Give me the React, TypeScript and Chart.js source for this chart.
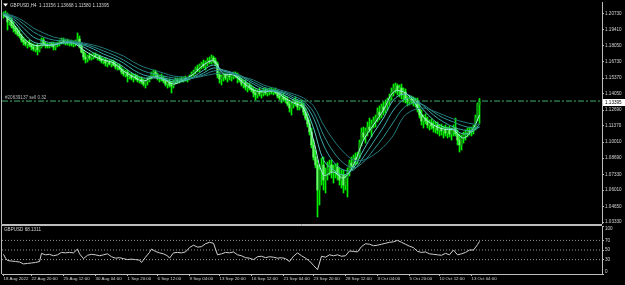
import React, { useEffect, useRef } from "react";
import { Chart, registerables } from "chart.js";

Chart.register(...registerables);

// ---------------- data ----------------
const chartTitle = "GBPUSD,H4";
const lastQuote = ["1.13156", "1.13668", "1.11580", "1.13395"];
const orderText = "#20639137 sell 0.32";
const orderPrice = 1.1345;
const rsiTitle = "GBPUSD 68.1311";

const opens = [
  1.2064, 1.2072, 1.2056, 1.2006, 1.2022, 1.1972, 1.1955, 1.1930, 1.1905, 1.1889,
  1.1855, 1.1838, 1.1822, 1.1830, 1.1813, 1.1797, 1.1780, 1.1805, 1.1772, 1.1797,
  1.1855, 1.1822, 1.1813, 1.1805, 1.1822, 1.1813, 1.1797, 1.1822, 1.1830, 1.1838,
  1.1855, 1.1838, 1.1847, 1.1830, 1.1838, 1.1822, 1.1830, 1.1847, 1.1863, 1.1805,
  1.1755, 1.1713, 1.1696, 1.1721, 1.1705, 1.1721, 1.1730, 1.1713, 1.1721, 1.1696,
  1.1680, 1.1688, 1.1663, 1.1671, 1.1655, 1.1671, 1.1646, 1.1630, 1.1638, 1.1613,
  1.1588, 1.1571, 1.1588, 1.1554, 1.1563, 1.1538, 1.1554, 1.1538, 1.1521, 1.1529,
  1.1504, 1.1487, 1.1512, 1.1521, 1.1546, 1.1579, 1.1588, 1.1563, 1.1538, 1.1546,
  1.1529, 1.1512, 1.1487, 1.1504, 1.1479, 1.1471, 1.1504, 1.1521, 1.1512, 1.1529,
  1.1521, 1.1538, 1.1529, 1.1538, 1.1554, 1.1571, 1.1588, 1.1613, 1.1604, 1.1638,
  1.1655, 1.1638, 1.1663, 1.1680, 1.1671, 1.1705, 1.1680, 1.1655, 1.1563, 1.1529,
  1.1546, 1.1563, 1.1538, 1.1554, 1.1546, 1.1554, 1.1571, 1.1554, 1.1538, 1.1521,
  1.1487, 1.1504, 1.1462, 1.1479, 1.1454, 1.1437, 1.1412, 1.1396, 1.1421, 1.1404,
  1.1412, 1.1429, 1.1412, 1.1421, 1.1437, 1.1421, 1.1429, 1.1412, 1.1387, 1.1370,
  1.1379, 1.1362, 1.1354, 1.1320, 1.1287, 1.1320, 1.1345, 1.1329, 1.1295, 1.1320,
  1.1304, 1.1253, 1.1203, 1.1153, 1.1086, 1.0978, 1.0877, 1.0811, 1.0602, 1.0769,
  1.0811, 1.0685, 1.0727, 1.0786, 1.0811, 1.0752, 1.0769, 1.0794, 1.0727, 1.0685,
  1.0727, 1.0643, 1.0702, 1.0752, 1.0827, 1.0802, 1.0869, 1.0852, 1.0894, 1.0994,
  1.1078, 1.1045, 1.1095, 1.1128, 1.1103, 1.1153, 1.1178, 1.1203, 1.1253, 1.1228,
  1.1295, 1.1270, 1.1320, 1.1345, 1.1379, 1.1421, 1.1454, 1.1471, 1.1437, 1.1454,
  1.1396, 1.1421, 1.1362, 1.1337, 1.1362, 1.1354, 1.1329, 1.1345, 1.1278, 1.1228,
  1.1178, 1.1203, 1.1178, 1.1145, 1.1161, 1.1136, 1.1120, 1.1145, 1.1103, 1.1120,
  1.1095, 1.1111, 1.1078, 1.1103, 1.1070, 1.1095, 1.1120, 1.1070, 1.1019, 1.0978,
  1.1036, 1.1061, 1.1078, 1.1095, 1.1086, 1.1111, 1.1128, 1.1203, 1.13156,
];
const highs = [
  1.2089, 1.2097, 1.2081, 1.2047, 1.2039, 1.2006, 1.1972, 1.1955, 1.1939, 1.1905,
  1.1880, 1.1863, 1.1847, 1.1855, 1.1830, 1.1822, 1.1813, 1.1822, 1.1805, 1.1872,
  1.1872, 1.1838, 1.1830, 1.1830, 1.1838, 1.1838, 1.1830, 1.1838, 1.1855, 1.1872,
  1.1872, 1.1863, 1.1863, 1.1855, 1.1855, 1.1847, 1.1855, 1.1914, 1.1889, 1.1822,
  1.1772, 1.1747, 1.1730, 1.1747, 1.1738, 1.1747, 1.1747, 1.1738, 1.1730, 1.1713,
  1.1705, 1.1705, 1.1688, 1.1688, 1.1688, 1.1688, 1.1671, 1.1655, 1.1655, 1.1630,
  1.1613, 1.1604, 1.1604, 1.1579, 1.1579, 1.1571, 1.1571, 1.1563, 1.1546, 1.1546,
  1.1529, 1.1521, 1.1538, 1.1554, 1.1588, 1.1604, 1.1604, 1.1579, 1.1563, 1.1571,
  1.1554, 1.1538, 1.1521, 1.1529, 1.1512, 1.1521, 1.1538, 1.1538, 1.1538, 1.1546,
  1.1546, 1.1554, 1.1546, 1.1563, 1.1588, 1.1604, 1.1630, 1.1646, 1.1655, 1.1671,
  1.1688, 1.1680, 1.1705, 1.1713, 1.1730, 1.1721, 1.1705, 1.1671, 1.1588, 1.1563,
  1.1579, 1.1579, 1.1571, 1.1579, 1.1571, 1.1588, 1.1588, 1.1579, 1.1563, 1.1538,
  1.1521, 1.1521, 1.1496, 1.1496, 1.1479, 1.1462, 1.1446, 1.1437, 1.1454, 1.1437,
  1.1454, 1.1454, 1.1446, 1.1454, 1.1454, 1.1446, 1.1454, 1.1437, 1.1421, 1.1404,
  1.1412, 1.1387, 1.1379, 1.1354, 1.1337, 1.1362, 1.1379, 1.1354, 1.1345, 1.1354,
  1.1329, 1.1287, 1.1237, 1.1187, 1.1120, 1.1019, 1.0936, 1.0852, 1.0811, 1.0869,
  1.0877, 1.0786, 1.0836, 1.0852, 1.0852, 1.0811, 1.0819, 1.0827, 1.0786, 1.0769,
  1.0769, 1.0727, 1.0786, 1.0852, 1.0877, 1.0894, 1.0911, 1.0919, 1.1019, 1.1120,
  1.1128, 1.1120, 1.1170, 1.1203, 1.1187, 1.1212, 1.1228, 1.1287, 1.1304, 1.1320,
  1.1337, 1.1354, 1.1370, 1.1404, 1.1454, 1.1487, 1.1496, 1.1487, 1.1479, 1.1487,
  1.1454, 1.1446, 1.1387, 1.1379, 1.1387, 1.1379, 1.1370, 1.1370, 1.1312, 1.1270,
  1.1228, 1.1237, 1.1212, 1.1187, 1.1195, 1.1178, 1.1170, 1.1170, 1.1145, 1.1153,
  1.1136, 1.1145, 1.1128, 1.1136, 1.1120, 1.1145, 1.1203, 1.1103, 1.1070, 1.1061,
  1.1086, 1.1103, 1.1120, 1.1128, 1.1128, 1.1145, 1.1228, 1.1329, 1.13668,
];
const lows = [
  1.2039, 1.2047, 1.1939, 1.1980, 1.1955, 1.1922, 1.1905, 1.1889, 1.1872, 1.1838,
  1.1813, 1.1805, 1.1788, 1.1797, 1.1772, 1.1763, 1.1755, 1.1730, 1.1755, 1.1788,
  1.1805, 1.1788, 1.1788, 1.1788, 1.1797, 1.1772, 1.1772, 1.1797, 1.1805, 1.1822,
  1.1822, 1.1813, 1.1813, 1.1805, 1.1805, 1.1797, 1.1805, 1.1830, 1.1788, 1.1747,
  1.1688, 1.1663, 1.1671, 1.1688, 1.1688, 1.1696, 1.1705, 1.1688, 1.1680, 1.1663,
  1.1655, 1.1638, 1.1630, 1.1646, 1.1630, 1.1638, 1.1613, 1.1604, 1.1604, 1.1571,
  1.1554, 1.1546, 1.1504, 1.1529, 1.1521, 1.1504, 1.1521, 1.1504, 1.1496, 1.1487,
  1.1471, 1.1454, 1.1479, 1.1504, 1.1529, 1.1554, 1.1546, 1.1521, 1.1504, 1.1512,
  1.1496, 1.1471, 1.1454, 1.1462, 1.1412, 1.1454, 1.1487, 1.1496, 1.1496, 1.1504,
  1.1504, 1.1512, 1.1504, 1.1521, 1.1538, 1.1554, 1.1571, 1.1588, 1.1588, 1.1613,
  1.1621, 1.1604, 1.1638, 1.1655, 1.1655, 1.1663, 1.1638, 1.1538, 1.1496, 1.1479,
  1.1512, 1.1521, 1.1504, 1.1521, 1.1512, 1.1529, 1.1538, 1.1496, 1.1504, 1.1471,
  1.1454, 1.1437, 1.1421, 1.1437, 1.1421, 1.1379, 1.1354, 1.1370, 1.1387, 1.1370,
  1.1387, 1.1396, 1.1387, 1.1396, 1.1404, 1.1396, 1.1404, 1.1370, 1.1354, 1.1329,
  1.1345, 1.1329, 1.1304, 1.1253, 1.1228, 1.1287, 1.1304, 1.1270, 1.1270, 1.1287,
  1.1228, 1.1187, 1.1128, 1.1061, 1.0953, 1.0852, 1.0786, 1.0376, 1.0476, 1.0643,
  1.0602, 1.0577, 1.0685, 1.0727, 1.0702, 1.0660, 1.0702, 1.0685, 1.0643, 1.0618,
  1.0577, 1.0602, 1.0543, 1.0719, 1.0769, 1.0786, 1.0811, 1.0819, 1.0869, 1.0969,
  1.1019, 1.0994, 1.1053, 1.1086, 1.1045, 1.1120, 1.1128, 1.1170, 1.1187, 1.1203,
  1.1228, 1.1245, 1.1270, 1.1312, 1.1354, 1.1387, 1.1412, 1.1396, 1.1379, 1.1362,
  1.1337, 1.1329, 1.1304, 1.1312, 1.1320, 1.1304, 1.1295, 1.1253, 1.1203, 1.1145,
  1.1120, 1.1153, 1.1120, 1.1103, 1.1111, 1.1086, 1.1078, 1.1070, 1.1053, 1.1061,
  1.1036, 1.1053, 1.1036, 1.1045, 1.1019, 1.1053, 1.1053, 1.0978, 1.0919, 1.0936,
  1.0994, 1.1019, 1.1045, 1.1061, 1.1053, 1.1070, 1.1103, 1.1178, 1.11580,
];
const closes = [
  1.2072, 1.2056, 1.2006, 1.2022, 1.1972, 1.1955, 1.1930, 1.1905, 1.1889, 1.1855,
  1.1838, 1.1822, 1.1830, 1.1813, 1.1797, 1.1780, 1.1805, 1.1772, 1.1797, 1.1855,
  1.1822, 1.1813, 1.1805, 1.1822, 1.1813, 1.1797, 1.1822, 1.1830, 1.1838, 1.1855,
  1.1838, 1.1847, 1.1830, 1.1838, 1.1822, 1.1830, 1.1847, 1.1863, 1.1805, 1.1755,
  1.1713, 1.1696, 1.1721, 1.1705, 1.1721, 1.1730, 1.1713, 1.1721, 1.1696, 1.1680,
  1.1688, 1.1663, 1.1671, 1.1655, 1.1671, 1.1646, 1.1630, 1.1638, 1.1613, 1.1588,
  1.1571, 1.1588, 1.1554, 1.1563, 1.1538, 1.1554, 1.1538, 1.1521, 1.1529, 1.1504,
  1.1487, 1.1512, 1.1521, 1.1546, 1.1579, 1.1588, 1.1563, 1.1538, 1.1546, 1.1529,
  1.1512, 1.1487, 1.1504, 1.1479, 1.1471, 1.1504, 1.1521, 1.1512, 1.1529, 1.1521,
  1.1538, 1.1529, 1.1538, 1.1554, 1.1571, 1.1588, 1.1613, 1.1604, 1.1638, 1.1655,
  1.1638, 1.1663, 1.1680, 1.1671, 1.1705, 1.1680, 1.1655, 1.1563, 1.1529, 1.1546,
  1.1563, 1.1538, 1.1554, 1.1546, 1.1554, 1.1571, 1.1554, 1.1538, 1.1521, 1.1487,
  1.1504, 1.1462, 1.1479, 1.1454, 1.1437, 1.1412, 1.1396, 1.1421, 1.1404, 1.1412,
  1.1429, 1.1412, 1.1421, 1.1437, 1.1421, 1.1429, 1.1412, 1.1387, 1.1370, 1.1379,
  1.1362, 1.1354, 1.1320, 1.1287, 1.1320, 1.1345, 1.1329, 1.1295, 1.1320, 1.1304,
  1.1253, 1.1203, 1.1153, 1.1086, 1.0978, 1.0877, 1.0811, 1.0602, 1.0769, 1.0811,
  1.0685, 1.0727, 1.0786, 1.0811, 1.0752, 1.0769, 1.0794, 1.0727, 1.0685, 1.0727,
  1.0643, 1.0702, 1.0752, 1.0827, 1.0802, 1.0869, 1.0852, 1.0894, 1.0994, 1.1078,
  1.1045, 1.1095, 1.1128, 1.1103, 1.1153, 1.1178, 1.1203, 1.1253, 1.1228, 1.1295,
  1.1270, 1.1320, 1.1345, 1.1379, 1.1421, 1.1454, 1.1471, 1.1437, 1.1454, 1.1396,
  1.1421, 1.1362, 1.1337, 1.1362, 1.1354, 1.1329, 1.1345, 1.1278, 1.1228, 1.1178,
  1.1203, 1.1178, 1.1145, 1.1161, 1.1136, 1.1120, 1.1145, 1.1103, 1.1120, 1.1095,
  1.1111, 1.1078, 1.1103, 1.1070, 1.1095, 1.1120, 1.1070, 1.1019, 1.0978, 1.1036,
  1.1061, 1.1078, 1.1095, 1.1086, 1.1111, 1.1128, 1.1203, 1.1316, 1.13395,
];

// moving averages, read every 5 bars
const maBars = [
  0, 5, 10, 15, 20, 25, 30, 35, 40, 45, 50, 55, 60, 65, 70, 75, 80, 85, 90, 95,
  100, 105, 110, 115, 120, 125, 130, 135, 140, 145, 150, 155, 160, 165, 170, 175,
  180, 185, 190, 195, 200, 205, 210, 215, 220, 225, 230, 235, 238,
];
const maFast = [
  1.2064, 1.1989, 1.1872, 1.1813, 1.1813, 1.1813, 1.1838, 1.1830, 1.1772, 1.1721,
  1.1688, 1.1663, 1.1596, 1.1546, 1.1512, 1.1546, 1.1529, 1.1487, 1.1521, 1.1571,
  1.1646, 1.1680, 1.1571, 1.1563, 1.1496, 1.1437, 1.1421, 1.1429, 1.1379, 1.1329,
  1.1287, 1.1019, 1.0727, 1.0752, 1.0702, 1.0810, 1.1019, 1.1145, 1.1270, 1.1421,
  1.1421, 1.1345, 1.1212, 1.1145, 1.1111, 1.1103, 1.1036, 1.1120, 1.1228,
];
const maSecond = [
  1.2064, 1.2014, 1.1914, 1.1838, 1.1822, 1.1813, 1.1830, 1.1830, 1.1797, 1.1747,
  1.1713, 1.1680, 1.1630, 1.1571, 1.1538, 1.1538, 1.1529, 1.1504, 1.1512, 1.1546,
  1.1604, 1.1646, 1.1596, 1.1571, 1.1521, 1.1462, 1.1429, 1.1429, 1.1396, 1.1354,
  1.1312, 1.1120, 1.0852, 1.0769, 1.0727, 1.0785, 1.0936, 1.1078, 1.1203, 1.1354,
  1.1404, 1.1370, 1.1270, 1.1187, 1.1128, 1.1111, 1.1070, 1.1095, 1.1153,
];
const maThird = [
  1.2072, 1.2031, 1.1955, 1.1880, 1.1847, 1.1830, 1.1830, 1.1830, 1.1813, 1.1780,
  1.1738, 1.1705, 1.1663, 1.1604, 1.1563, 1.1546, 1.1538, 1.1521, 1.1521, 1.1538,
  1.1579, 1.1621, 1.1604, 1.1579, 1.1538, 1.1487, 1.1446, 1.1429, 1.1412, 1.1370,
  1.1329, 1.1203, 1.0978, 1.0836, 1.0769, 1.0769, 1.0877, 1.1003, 1.1128, 1.1270,
  1.1354, 1.1370, 1.1304, 1.1228, 1.1170, 1.1128, 1.1103, 1.1103, 1.1128,
];
const maFourth = [
  1.2072, 1.2047, 1.1989, 1.1922, 1.1880, 1.1855, 1.1847, 1.1838, 1.1822, 1.1797,
  1.1763, 1.1730, 1.1688, 1.1638, 1.1596, 1.1571, 1.1554, 1.1538, 1.1529, 1.1538,
  1.1563, 1.1596, 1.1596, 1.1579, 1.1546, 1.1504, 1.1462, 1.1437, 1.1421, 1.1387,
  1.1345, 1.1253, 1.1061, 1.0919, 1.0827, 1.0785, 1.0836, 1.0936, 1.1045, 1.1170,
  1.1287, 1.1329, 1.1312, 1.1253, 1.1203, 1.1170, 1.1136, 1.1120, 1.1128,
];
const maSlow = [
  1.2081, 1.2056, 1.2014, 1.1955, 1.1914, 1.1880, 1.1863, 1.1847, 1.1830, 1.1813,
  1.1788, 1.1755, 1.1721, 1.1671, 1.1630, 1.1604, 1.1579, 1.1554, 1.1546, 1.1538,
  1.1554, 1.1571, 1.1579, 1.1571, 1.1546, 1.1521, 1.1479, 1.1454, 1.1429, 1.1404,
  1.1370, 1.1304, 1.1145, 1.1019, 1.0919, 1.0852, 1.0852, 1.0894, 1.0961, 1.1061,
  1.1212, 1.1270, 1.1287, 1.1262, 1.1228, 1.1195, 1.1170, 1.1153, 1.1153,
];

// RSI sub-window
const rsiBars = [
  0, 1, 2, 4, 6, 8, 10, 12, 14, 16, 18, 19, 21, 23, 25, 27, 29, 31, 33, 35,
  37, 38, 40, 42, 44, 46, 48, 50, 52, 54, 56, 58, 60, 62, 64, 66, 68, 69, 71, 73,
  74, 76, 78, 80, 82, 83, 85, 87, 89, 91, 93, 95, 97, 99, 101, 103, 105, 107, 109, 111,
  113, 115, 117, 119, 121, 123, 125, 127, 129, 131, 133, 135, 137, 139, 141, 143, 145, 147, 149, 151,
  153, 155, 157, 159, 161, 163, 165, 167, 169, 171, 173, 175, 177, 179, 181, 183, 185, 187, 189, 191,
  193, 195, 197, 199, 201, 203, 205, 207, 209, 211, 213, 215, 217, 219, 221, 223, 225, 227, 229, 231,
  233, 235, 237, 238,
];
const rsiValues = [
  41, 33, 28, 27, 26, 25, 21, 22, 23, 24, 26, 43, 40, 41, 38, 40, 45, 44, 45, 44,
  52, 42, 32, 39, 41, 40, 38, 40, 42, 36, 33, 34, 32, 30, 31, 30, 29, 24, 35, 45,
  52, 47, 44, 42, 38, 33, 44, 45, 44, 46, 55, 60, 56, 57, 63, 66, 64, 40, 42, 45,
  44, 46, 40, 38, 34, 33, 30, 36, 37, 34, 36, 35, 33, 34, 32, 26, 37, 44, 38, 33,
  27, 18, 9, 37, 35, 40, 38, 40, 37, 38, 48, 47, 46, 57, 63, 62, 59, 60, 62, 64,
  66, 67, 70, 66, 62, 58, 55, 47, 45, 46, 42, 41, 40, 39, 43, 40, 50, 40, 42, 45,
  50, 50, 61, 68.1311,
];
const rsiLevels = [70, 50, 30];

// axis labels
const priceTicks = [
  1.0333, 1.0465, 1.0601, 1.0733, 1.0869, 1.1001, 1.1137, 1.1269, 1.1405, 1.1537,
  1.1673, 1.1805, 1.1941, 1.2073,
];
const rsiTicks = [0, 30, 50, 70, 100];
const timeLabelBars = [0, 14, 30, 46, 62, 77, 93, 108, 124, 140, 155, 171, 187, 203, 218, 234];
const timeLabels = [
  "18 Aug 2022", "22 Aug 20:00", "25 Aug 12:00", "30 Aug 04:00", "1 Sep 20:00",
  "6 Sep 12:00", "9 Sep 04:00", "13 Sep 20:00", "16 Sep 12:00", "21 Sep 04:00",
  "23 Sep 20:00", "28 Sep 12:00", "3 Oct 04:00", "5 Oct 20:00", "10 Oct 12:00",
  "13 Oct 04:00",
];

// ---------------- style ----------------
const FONT = "'Liberation Sans', Arial, sans-serif";
const FS = 4.6;
const FS_TIME = 4.4;
const TEXT = "#d4d4d4";
const FRAME = "#bdbdbd";
const WICK = "#00f000";
const BULL = "#119011";
const BEAR = "#66ff66";
const MA_COLORS = ["#a6ece4", "#57c4be", "#3aa9a7", "#2c9090", "#227a7a"];
const X_MIN = -0.75;
const X_MAX = 299.25;
const Y_MAX = 1.21727;
const Y_MIN = 1.03258;

const mainOverlay = {
  id: "mainOverlay",
  afterDraw(chart: any) {
    const { ctx, chartArea: a, scales } = chart;
    ctx.save();
    ctx.strokeStyle = FRAME;
    ctx.lineWidth = 1;
    ctx.beginPath();
    ctx.moveTo(a.left - 0.5, 0);
    ctx.lineTo(a.left - 0.5, a.bottom + 1.5);
    ctx.lineTo(a.right, a.bottom + 1.5);
    ctx.stroke();

    // header
    ctx.fillStyle = "#ffffff";
    ctx.beginPath();
    ctx.moveTo(3, 3.5);
    ctx.lineTo(8, 3.5);
    ctx.lineTo(5.5, 6.5);
    ctx.closePath();
    ctx.fill();
    ctx.font = `${FS}px ${FONT}`;
    ctx.textBaseline = "middle";
    ctx.textAlign = "left";
    ctx.fillStyle = TEXT;
    ctx.fillText(`${chartTitle}  ${lastQuote.join(" ")}`, 10, 5.5);

    // order label
    const oy = scales.y.getPixelForValue(orderPrice);
    ctx.fillStyle = "#b8b8b8";
    ctx.fillText(orderText, 5, oy - 3.5);

    // current price box
    const py = Math.round(scales.y.getPixelForValue(closes[closes.length - 1]));
    ctx.fillStyle = "#ffffff";
    ctx.fillRect(a.right + 1, py - 3, 22, 7);
    ctx.fillStyle = "#000000";
    ctx.fillText(closes[closes.length - 1].toFixed(5), a.right + 3, py + 0.5);
    ctx.restore();
  },
};

const subOverlay = {
  id: "subOverlay",
  afterDraw(chart: any) {
    const { ctx, chartArea: a } = chart;
    ctx.save();
    ctx.strokeStyle = FRAME;
    ctx.lineWidth = 1;
    ctx.beginPath();
    ctx.moveTo(a.left - 0.5, 0.5);
    ctx.lineTo(a.right, 0.5);
    ctx.moveTo(a.left - 0.5, 0);
    ctx.lineTo(a.left - 0.5, a.bottom);
    ctx.stroke();
    ctx.font = `${FS}px ${FONT}`;
    ctx.textBaseline = "middle";
    ctx.textAlign = "left";
    ctx.fillStyle = TEXT;
    ctx.fillText(rsiTitle, 4, 5);
    ctx.restore();
  },
};

function mainConfig(): any {
  const idx = closes.map((_, i) => i);
  const line = (xs: number[], ys: number[], color: string) => ({
    type: "line",
    data: xs.map((b, k) => ({ x: b, y: ys[k] })),
    borderColor: color,
    borderWidth: 1,
    pointRadius: 0,
    tension: 0.35,
    order: 1,
  });
  return {
    type: "bar",
    data: {
      datasets: [
        {
          type: "line",
          data: [
            { x: X_MIN, y: orderPrice },
            { x: X_MAX, y: orderPrice },
          ],
          borderColor: "#3dae6e",
          borderWidth: 1,
          borderDash: [6, 2, 2, 2],
          pointRadius: 0,
          order: 0,
        },
        line(maBars, maSlow, MA_COLORS[4]),
        line(maBars, maFourth, MA_COLORS[3]),
        line(maBars, maThird, MA_COLORS[2]),
        line(maBars, maSecond, MA_COLORS[1]),
        line(maBars, maFast, MA_COLORS[0]),
        {
          type: "bar",
          data: idx.map((i) => ({ x: i, y: [opens[i], closes[i]] })),
          backgroundColor: idx.map((i) => (closes[i] >= opens[i] ? BULL : BEAR)),
          barThickness: 1.6,
          minBarLength: 1,
          grouped: false,
          borderWidth: 0,
          order: 5,
        },
        {
          type: "bar",
          data: idx.map((i) => ({ x: i, y: [lows[i], highs[i]] })),
          backgroundColor: WICK,
          barThickness: 1,
          grouped: false,
          borderWidth: 0,
          order: 6,
        },
      ],
    },
    options: {
      animation: false,
      responsive: false,
      devicePixelRatio: 1,
      events: [],
      layout: { padding: { left: 2, top: 2, right: 0, bottom: 2 } },
      plugins: { legend: { display: false }, tooltip: { enabled: false } },
      scales: {
        x: { type: "linear", min: X_MIN, max: X_MAX, offset: false, display: false },
        y: {
          position: "right",
          min: Y_MIN,
          max: Y_MAX,
          afterBuildTicks(s: any) {
            s.ticks = priceTicks.map((v) => ({ value: v }));
          },
          afterFit(s: any) {
            s.width = 23;
            s.paddingTop = 0;
            s.paddingBottom = 0;
          },
          ticks: {
            autoSkip: false,
            padding: 1,
            color: TEXT,
            font: { family: FONT, size: FS },
            callback: (v: any) => Number(v).toFixed(5),
          },
          grid: { drawOnChartArea: false, tickLength: 2, color: FRAME },
          border: { display: true, color: FRAME },
        },
      },
    },
    plugins: [mainOverlay],
  };
}

function subConfig(): any {
  return {
    type: "line",
    data: {
      datasets: [
        {
          data: rsiBars.map((b, k) => ({ x: b, y: rsiValues[k] })),
          borderColor: "#cfcfcf",
          borderWidth: 1,
          pointRadius: 0,
          tension: 0,
        },
        ...rsiLevels.map((l) => ({
          data: [
            { x: X_MIN, y: l },
            { x: X_MAX, y: l },
          ],
          borderColor: "#9a9a9a",
          borderWidth: 1,
          borderDash: [1, 2],
          pointRadius: 0,
        })),
      ],
    },
    options: {
      animation: false,
      responsive: false,
      devicePixelRatio: 1,
      events: [],
      layout: { padding: { left: 2, top: 1, right: 0, bottom: 0 } },
      plugins: { legend: { display: false }, tooltip: { enabled: false } },
      scales: {
        x: {
          type: "linear",
          min: X_MIN,
          max: X_MAX,
          offset: false,
          afterBuildTicks(s: any) {
            s.ticks = timeLabelBars.map((v) => ({ value: v }));
          },
          afterFit(s: any) {
            s.height = 11;
            s.paddingLeft = 0;
            s.paddingRight = 0;
          },
          ticks: {
            autoSkip: false,
            maxRotation: 0,
            minRotation: 0,
            align: "start",
            padding: 0,
            color: TEXT,
            font: { family: FONT, size: FS_TIME },
            callback: (_v: any, i: number) => timeLabels[i],
          },
          grid: { drawOnChartArea: false, tickLength: 2, color: FRAME },
          border: { display: true, color: FRAME },
        },
        y: {
          position: "right",
          min: 0,
          max: 100,
          afterBuildTicks(s: any) {
            s.ticks = rsiTicks.map((v) => ({ value: v }));
          },
          afterFit(s: any) {
            s.width = 23;
            s.paddingTop = 0;
            s.paddingBottom = 0;
          },
          ticks: {
            autoSkip: false,
            padding: 1,
            color: TEXT,
            font: { family: FONT, size: FS },
            callback: (v: any) => (v === 100 ? ["", "100"] : v === 0 ? ["0", ""] : String(v)),
          },
          grid: { drawOnChartArea: false, tickLength: 2, color: FRAME },
          border: { display: true, color: FRAME },
        },
      },
    },
    plugins: [subOverlay],
  };
}

export default function App() {
  const mainRef = useRef<HTMLCanvasElement>(null);
  const subRef = useRef<HTMLCanvasElement>(null);
  useEffect(() => {
    const main = new Chart(mainRef.current as HTMLCanvasElement, mainConfig());
    const sub = new Chart(subRef.current as HTMLCanvasElement, subConfig());
    return () => {
      main.destroy();
      sub.destroy();
    };
  }, []);
  return (
    <div
      style={{
        position: "fixed",
        left: 0,
        top: 0,
        width: 625,
        height: 285,
        background: "#000",
        overflow: "hidden",
      }}
    >
      <canvas
        ref={mainRef}
        width={625}
        height={225}
        style={{ position: "absolute", left: 0, top: 0, width: 625, height: 225 }}
      />
      <canvas
        ref={subRef}
        width={625}
        height={60}
        style={{ position: "absolute", left: 0, top: 225, width: 625, height: 60 }}
      />
    </div>
  );
}
